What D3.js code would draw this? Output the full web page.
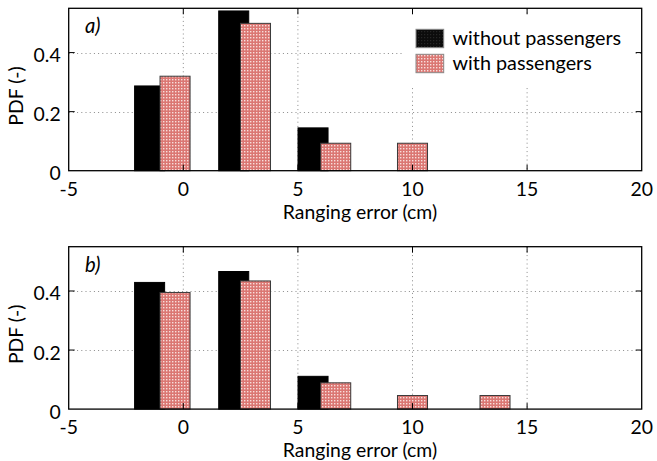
<!DOCTYPE html>
<html>
<head>
<meta charset="utf-8">
<script src="https://cdn.jsdelivr.net/npm/d3@7"></script>
<style>
  html, body { margin: 0; padding: 0; background: #fff; }
  svg { display: block; }
  text { font-family: Lato, "Liberation Sans", sans-serif; fill: #000; }
</style>
</head>
<body>
<script>
// Bin centres (cm) for the two series and the x tick values
const binsWithout = [-1.47, 2.2, 5.66];
const binsWith = [-0.36, 3.15, 6.65, 10.0, 13.6];
const xTicks = [-5, 0, 5, 10, 15, 20];
const yTicks = [0, 0.2, 0.4];
const yTickLabels = ["0", "0.2", "0.4"];

// Panel a)
const pdfWithoutA = [0.287, 0.541, 0.145];
const pdfWithA = [0.320, 0.499, 0.093, 0.093, 0];
// Panel b)
const pdfWithoutB = [0.429, 0.466, 0.111];
const pdfWithB = [0.395, 0.434, 0.089, 0.046, 0.046];

const seriesNames = ["without passengers", "with passengers"];
const panelLabels = ["a)", "b)"];
const xTitle = "Ranging error (cm)";
const yTitle = "PDF (-)";

const W = 657, H = 461;
const FS = 19.4;
const barWidth = 1.31; // in cm
const left = 68.7, right = 641.7;
const panelTops = [8.3, 246.7];
const panelH = 162.4;

const svg = d3.select("body").append("svg").attr("width", W).attr("height", H);
const defs = svg.append("defs");

const pink = defs.append("pattern").attr("id", "pinkDots")
  .attr("patternUnits", "userSpaceOnUse").attr("width", 3).attr("height", 3);
pink.append("rect").attr("width", 3).attr("height", 3).attr("fill", "#db7773");
pink.append("rect").attr("x", 1).attr("y", 1).attr("width", 1.4).attr("height", 1.4).attr("fill", "#f8dedc");

const dark = defs.append("pattern").attr("id", "darkDots")
  .attr("patternUnits", "userSpaceOnUse").attr("width", 3).attr("height", 3);
dark.append("rect").attr("width", 3).attr("height", 3).attr("fill", "#0c0c0c");
dark.append("rect").attr("x", 1).attr("y", 1).attr("width", 1.2).attr("height", 1.2).attr("fill", "#262626");

const x = d3.scaleLinear().domain([-5, 20]).range([left, right]);

function drawPanel(i, without, withP) {
  const top = panelTops[i], bottom = top + panelH;
  const y = d3.scaleLinear().domain([0, 0.55]).range([bottom, top]);
  const g = svg.append("g");

  // dotted grid
  g.append("g").selectAll("line.vg").data(xTicks.slice(1, -1)).join("line")
    .attr("x1", d => x(d)).attr("x2", d => x(d)).attr("y1", top).attr("y2", bottom)
    .attr("stroke", "#8a8a8a").attr("stroke-width", 1).attr("stroke-dasharray", "1,3.2");
  g.append("g").selectAll("line.hg").data(yTicks.slice(1)).join("line")
    .attr("x1", left).attr("x2", right).attr("y1", d => Math.round(y(d)) + 0.5).attr("y2", d => Math.round(y(d)) + 0.5)
    .attr("stroke", "#8a8a8a").attr("stroke-width", 1).attr("stroke-dasharray", "1,3.2");

  // bars: without passengers first, with passengers drawn over them
  const wo = binsWithout.map((c, k) => ({ c, v: without[k] })).filter(d => d.v > 0);
  g.append("g").selectAll("rect").data(wo).join("rect")
    .attr("x", d => x(d.c - barWidth / 2)).attr("width", d => x(d.c + barWidth / 2) - x(d.c - barWidth / 2))
    .attr("y", d => y(d.v)).attr("height", d => y(0) - y(d.v))
    .attr("fill", "#000").attr("stroke", "#000").attr("stroke-width", 1);
  const wi = binsWith.map((c, k) => ({ c, v: withP[k] })).filter(d => d.v > 0);
  g.append("g").selectAll("rect").data(wi).join("rect")
    .attr("x", d => x(d.c - barWidth / 2)).attr("width", d => x(d.c + barWidth / 2) - x(d.c - barWidth / 2))
    .attr("y", d => y(d.v)).attr("height", d => y(0) - y(d.v))
    .attr("fill", "url(#pinkDots)").attr("stroke", "#3a3a3a").attr("stroke-width", 1);

  // legend (top panel only), opaque so the grid stops behind it
  if (i === 0) {
    const lg = g.append("g");
    lg.append("rect").attr("x", 402).attr("y", 16).attr("width", 233).attr("height", 70).attr("fill", "#fff");
    const items = [{ name: seriesNames[0], fill: "url(#darkDots)", y: 29.3 }, { name: seriesNames[1], fill: "url(#pinkDots)", y: 54.3 }];
    items.forEach(it => {
      lg.append("rect").attr("x", 416).attr("y", it.y).attr("width", 27.7).attr("height", 18.4)
        .attr("fill", it.fill).attr("stroke", "#8a8a8a").attr("stroke-width", 1);
      lg.append("text").attr("x", 452.5).attr("y", it.y + 15.7).attr("font-size", 19.8).text(it.name);
    });
  }

  // box
  g.append("rect").attr("x", left).attr("y", top).attr("width", right - left).attr("height", panelH)
    .attr("fill", "none").attr("stroke", "#000").attr("stroke-width", 1.3);

  // inward ticks on all four sides
  const tl = 6;
  const tk = g.append("g").attr("stroke", "#000").attr("stroke-width", 1);
  xTicks.slice(1, -1).forEach(t => {
    tk.append("line").attr("x1", x(t)).attr("x2", x(t)).attr("y1", bottom).attr("y2", bottom - tl);
    tk.append("line").attr("x1", x(t)).attr("x2", x(t)).attr("y1", top).attr("y2", top + tl);
  });
  yTicks.slice(1).forEach(t => {
    tk.append("line").attr("x1", left).attr("x2", left + tl).attr("y1", y(t)).attr("y2", y(t));
    tk.append("line").attr("x1", right).attr("x2", right - tl).attr("y1", y(t)).attr("y2", y(t));
  });

  // tick labels
  g.append("g").selectAll("text").data(xTicks).join("text")
    .attr("x", d => x(d)).attr("y", bottom + 25).attr("text-anchor", "middle").attr("font-size", FS)
    .text(d => d);
  g.append("g").selectAll("text").data(yTicks).join("text")
    .attr("x", left - 8).attr("y", d => y(d) + 9.5).attr("text-anchor", "end").attr("font-size", FS)
    .text((d, k) => yTickLabels[k]);

  // titles
  g.append("text").attr("x", 360).attr("y", bottom + 48).attr("text-anchor", "middle").attr("font-size", FS).text(xTitle);
  g.append("text").attr("transform", `translate(22.5,${top + panelH / 2 + 6.5}) rotate(-90)`)
    .attr("text-anchor", "middle").attr("font-size", FS).text(yTitle);
  g.append("text").attr("x", 85).attr("y", top + 25).attr("font-size", 20.3).attr("font-style", "italic").text(panelLabels[i]);
}

drawPanel(0, pdfWithoutA, pdfWithA);
drawPanel(1, pdfWithoutB, pdfWithB);
</script>
</body>
</html>
